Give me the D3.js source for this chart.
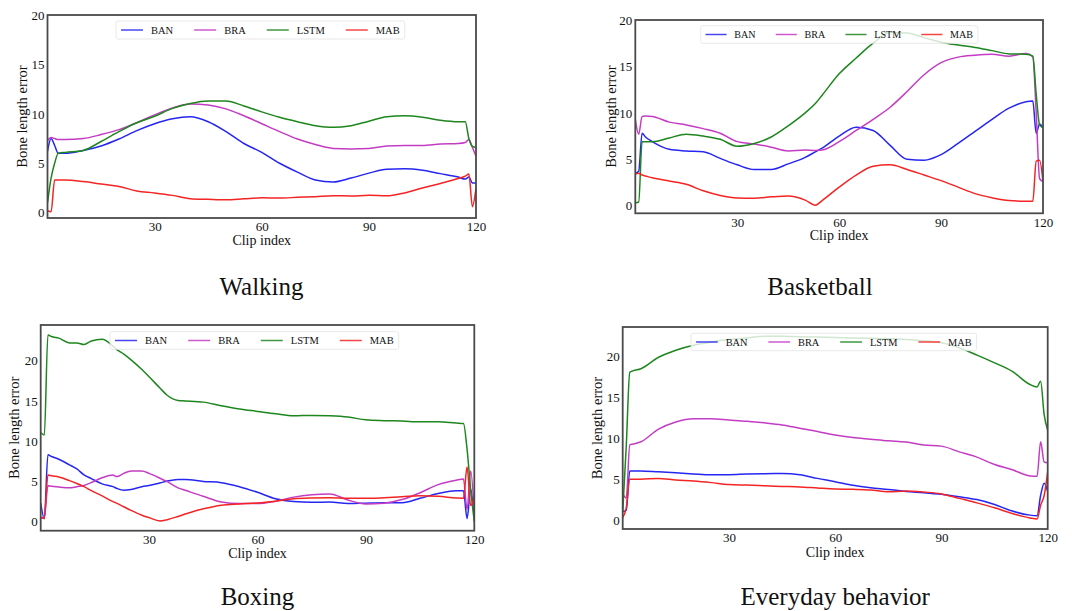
<!DOCTYPE html>
<html><head><meta charset="utf-8">
<script src="https://cdn.jsdelivr.net/npm/d3@7/dist/d3.min.js"></script>
<style>
html,body{margin:0;padding:0;background:#fff;}
svg{display:block;}
text{font-family:"Liberation Serif","Times New Roman",serif;fill:#111;}
</style></head>
<body>
<svg id="chart" width="1072" height="611"></svg>
<script>
// ---------- DATA ----------
const seriesNames = ["BAN","BRA","LSTM","MAB"];
const xTickValues = [30,60,90,120];
const yTickValues = [0,5,10,15,20];

// Walking
const walkingClips = [0,1,2,3,5,10,15,20,25,30,35,40,45,50,55,60,65,70,75,80,85,90,95,100,105,110,115,117,118,119,120];
const walkingBAN  = [6.2,7.5,6.8,6.0,6.0,6.3,6.75,7.45,8.3,9.0,9.5,9.7,9.2,8.2,7.0,6.1,5.0,4.1,3.3,3.1,3.5,4.0,4.4,4.45,4.3,3.95,3.6,3.4,3.6,3.0,3.0];
const walkingBRA  = [7.3,7.6,7.5,7.4,7.4,7.5,7.9,8.4,9.1,9.9,10.6,11.0,10.9,10.5,9.8,9.0,8.2,7.45,6.9,6.5,6.45,6.5,6.75,6.8,6.8,6.95,7.0,7.1,7.4,6.6,5.7];
const walkingLSTM = [1.0,3.5,5.0,6.0,6.1,6.3,7.2,8.2,9.1,9.75,10.55,11.05,11.3,11.3,10.8,10.2,9.65,9.2,8.8,8.63,8.8,9.25,9.7,9.8,9.65,9.35,9.2,9.2,7.5,6.7,6.6];
const walkingMAB  = [0.2,0.1,3.3,3.3,3.3,3.15,2.9,2.65,2.2,2.0,1.75,1.42,1.35,1.3,1.4,1.5,1.48,1.55,1.62,1.72,1.69,1.75,1.7,2.0,2.5,2.95,3.45,3.7,3.9,0.6,2.5];

// Basketball
const basketballClips = [0,1,2,3,5,10,15,20,25,30,35,40,45,50,53,55,60,65,70,75,80,85,90,95,100,105,110,115,117,118,119,120];
const basketballBAN  = [3.5,3.7,7.8,7.4,6.9,6.07,5.9,5.8,5.1,4.4,3.9,3.9,4.5,5.2,5.8,6.2,7.5,8.45,8.1,6.5,5.0,4.9,5.5,6.7,8.0,9.3,10.5,11.2,11.27,7.8,8.8,8.4];
const basketballBRA  = [9.3,7.7,9.6,9.65,9.6,9.0,8.7,8.3,7.8,6.9,6.65,6.3,5.9,6.0,5.95,6.0,6.9,8.1,9.3,10.6,12.3,14.1,15.4,16.0,16.2,16.3,16.1,16.4,16.05,10.0,2.9,2.6];
const basketballLSTM = [0.3,0.4,6.9,6.9,6.9,7.3,7.7,7.5,7.15,6.4,6.7,7.4,8.6,10.0,11.0,11.9,14.2,15.9,17.5,18.65,18.6,18.1,17.6,17.3,17.05,16.7,16.35,16.3,16.1,12.0,8.7,8.4];
const basketballMAB  = [3.4,3.5,3.3,3.2,3.0,2.65,2.3,1.6,1.1,0.83,0.8,0.95,1.04,0.6,0.05,0.55,2.0,3.3,4.25,4.4,3.9,3.3,2.7,2.0,1.3,0.85,0.55,0.48,0.47,4.8,4.9,2.6];

// Boxing
const boxingClips = [0,1,2,3,5,8,10,12,14,17,20,21,23,25,28,30,33,35,38,40,45,50,55,60,65,70,75,80,85,90,95,100,105,110,115,117,118,119,120];
const boxingBAN  = [2.3,0.4,8.3,8.1,7.75,7.05,6.55,5.8,5.35,4.7,4.35,4.15,3.9,4.0,4.35,4.5,4.8,5.05,5.25,5.25,5.0,4.85,4.35,3.65,2.85,2.5,2.4,2.45,2.25,2.3,2.35,2.35,2.9,3.5,3.85,3.85,0.4,4.0,0.4];
const boxingBRA  = [0.5,0.6,4.45,4.4,4.3,4.2,4.35,4.5,4.85,5.45,5.8,5.6,6.0,6.3,6.3,6.0,5.4,4.97,4.2,3.9,3.15,2.45,2.25,2.25,2.55,3.05,3.35,3.45,2.7,2.2,2.3,2.75,3.6,4.6,5.15,5.3,1.5,6.3,1.0];
const boxingLSTM = [11.05,10.77,23.2,23.0,22.8,22.2,22.2,22.0,22.45,22.65,21.8,21.4,20.8,20.1,18.9,18.0,16.6,15.7,15.05,15.0,14.85,14.4,14.0,13.7,13.4,13.15,13.2,13.15,13.0,12.65,12.55,12.5,12.4,12.4,12.25,12.2,9.0,4.0,0.0];
const boxingMAB  = [0.5,0.4,5.8,5.7,5.55,5.1,4.75,4.35,3.85,3.2,2.5,2.3,1.85,1.4,0.8,0.5,0.1,0.25,0.65,0.95,1.6,2.05,2.2,2.32,2.55,2.85,2.95,2.98,2.9,2.9,2.98,3.1,3.23,3.15,2.95,2.9,6.8,2.0,3.0];

// Everyday behavior
const everydayClips = [0,1,2,3,5,10,15,20,25,30,35,40,45,50,55,60,65,70,75,80,85,90,95,100,105,110,115,117,118,119,120];
const everydayBAN  = [1.0,1.2,6.0,6.0,6.0,5.9,5.78,5.65,5.55,5.55,5.63,5.68,5.7,5.55,5.1,4.7,4.25,3.95,3.75,3.5,3.35,3.15,2.85,2.5,1.9,1.1,0.6,0.53,3.0,4.5,3.5];
const everydayBRA  = [3.2,2.7,9.2,9.3,9.55,11.1,12.0,12.4,12.4,12.25,12.1,11.9,11.65,11.25,10.85,10.4,10.1,9.9,9.7,9.55,9.2,9.05,8.35,7.7,6.8,6.15,5.4,5.35,9.6,7.1,7.0];
const everydayLSTM = [1.0,9.0,18.1,18.3,18.5,19.9,20.8,21.4,21.8,22.1,22.3,22.5,22.5,22.45,22.4,22.35,22.3,22.25,22.2,22.1,21.95,21.7,21.1,20.2,19.25,18.2,16.6,16.3,17.0,12.9,11.0];
const everydayMAB  = [0.3,1.5,5.0,5.0,5.0,5.08,4.9,4.77,4.58,4.35,4.28,4.2,4.12,4.05,3.92,3.8,3.76,3.68,3.45,3.55,3.42,3.2,2.65,2.1,1.5,0.8,0.25,0.12,1.8,3.0,5.9];

// ---------- STYLE / LAYOUT ----------
const colors = {BAN:"#2626f2", BRA:"#c43cc4", LSTM:"#1d861d", MAB:"#f42424"};

const panels = [
  {title:"Walking", clips:walkingClips, values:[walkingBAN,walkingBRA,walkingLSTM,walkingMAB],
   box:{x0:47.5,x1:476,y0:15,y1:218}, yDomain:[-0.54,20],
   legend:{x:116,y:21,h:18,s:1.0}, ylab:{x:26.7}, xlabY:245, titleX:261.5, titleY:295},
  {title:"Basketball", clips:basketballClips, values:[basketballBAN,basketballBRA,basketballLSTM,basketballMAB],
   box:{x0:635.3,x1:1043,y0:20,y1:213.3}, yDomain:[-0.82,20],
   legend:{x:700.7,y:25.7,h:17.6,s:0.96}, ylab:{x:616}, xlabY:240, titleX:820, titleY:295},
  {title:"Boxing", clips:boxingClips, values:[boxingBAN,boxingBRA,boxingLSTM,boxingMAB],
   box:{x0:40.7,x1:474.3,y0:325,y1:530.7}, yDomain:[-1.12,24.43],
   legend:{x:110,y:331.7,h:17.6,s:1.0}, ylab:{x:19}, xlabY:557.5, titleX:257.5, titleY:605},
  {title:"Everyday behavior", clips:everydayClips, values:[everydayBAN,everydayBRA,everydayLSTM,everydayMAB],
   box:{x0:622.7,x1:1047.7,y0:327,y1:529}, yDomain:[-1.1,23.64],
   legend:{x:691,y:333.3,h:17.4,s:0.99}, ylab:{x:602}, xlabY:556.5, titleX:835.2, titleY:605}
];

const svg = d3.select("#chart");
const serif = '"Liberation Serif","Times New Roman",serif';

panels.forEach((p, pi) => {
  const b = p.box;
  const x = d3.scaleLinear().domain([0,120]).range([b.x0,b.x1]);
  const y = d3.scaleLinear().domain(p.yDomain).range([b.y1,b.y0]);
  const g = svg.append("g");

  g.append("clipPath").attr("id","clip"+pi).append("rect")
    .attr("x",b.x0).attr("y",b.y0).attr("width",b.x1-b.x0).attr("height",b.y1-b.y0);

  // axes
  const ax = g.append("g").attr("transform",`translate(0,${b.y1})`)
    .call(d3.axisBottom(x).tickValues(xTickValues).tickSize(0).tickPadding(4));
  ax.select(".domain").remove();
  ax.selectAll("text").style("font-size","13px").style("font-family",serif).attr("fill","#111");

  const ay = g.append("g").attr("transform",`translate(${b.x0},0)`)
    .call(d3.axisLeft(y).tickValues(yTickValues).tickSize(0).tickPadding(3));
  ay.select(".domain").remove();
  ay.selectAll("text").style("font-size","13px").style("font-family",serif).attr("fill","#111");

  // lines
  const line = d3.line().x(d=>x(d[0])).y(d=>y(d[1])).curve(d3.curveMonotoneX);
  const lg = g.append("g").attr("clip-path",`url(#clip${pi})`);
  seriesNames.forEach((name, si) => {
    const pts = p.clips.map((c,i)=>[c, p.values[si][i]]);
    lg.append("path").datum(pts).attr("d",line)
      .attr("fill","none").attr("stroke",colors[name]).attr("stroke-width",1.5)
      .attr("stroke-linejoin","round");
  });

  // frame
  g.append("rect").attr("x",b.x0).attr("y",b.y0).attr("width",b.x1-b.x0).attr("height",b.y1-b.y0)
    .attr("fill","none").attr("stroke","#4a4a4a").attr("stroke-width",1.8);

  // legend
  const L = p.legend, s = L.s;
  const leg = g.append("g");
  const bg = leg.append("rect").attr("x",L.x).attr("y",L.y).attr("height",L.h).attr("rx",2)
    .attr("fill","#fff").attr("fill-opacity",0.8).attr("stroke","#e2e2e2").attr("stroke-width",0.8);
  let cx = L.x + 5*s;
  const cy = L.y + L.h/2;
  seriesNames.forEach((name, si) => {
    leg.append("line").attr("x1",cx).attr("x2",cx+22*s).attr("y1",cy).attr("y2",cy)
      .attr("stroke",colors[name]).attr("stroke-width",1.5).attr("stroke-opacity",0.85);
    const t = leg.append("text").attr("x",cx+30*s).attr("y",cy).attr("dy","0.35em")
      .style("font-size",(10.5*s)+"px").text(name);
    const w = t.node().getComputedTextLength();
    cx = cx + 30*s + w + (si<3 ? 21*s : 5*s);
  });
  bg.attr("width", cx - L.x);

  // axis labels
  g.append("text").attr("transform",`translate(${p.ylab.x},${(b.y0+b.y1)/2}) rotate(-90)`)
    .attr("text-anchor","middle").style("font-size","14.5px").text("Bone length error");
  g.append("text").attr("x",(b.x0+b.x1)/2).attr("y",p.xlabY).attr("text-anchor","middle")
    .style("font-size","14px").text("Clip index");

  // title
  g.append("text").attr("x",p.titleX).attr("y",p.titleY).attr("text-anchor","middle")
    .style("font-size","25px").text(p.title);
});
</script>
</body></html>
